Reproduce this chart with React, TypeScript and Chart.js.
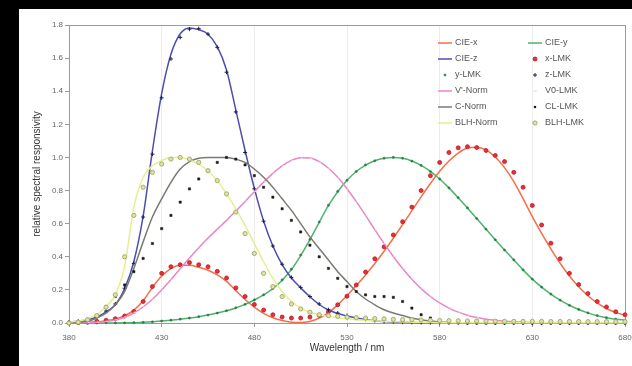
import React, { useEffect, useRef } from 'react';
import { Chart, registerables } from 'chart.js';

Chart.register(...registerables);

const FONT = "'Liberation Sans', Arial, Helvetica, sans-serif";

// Wavelengths (nm)
const wavelengths = [
  380, 385, 390, 395, 400, 405, 410, 415, 420, 425,
  430, 435, 440, 445, 450, 455, 460, 465, 470, 475,
  480, 485, 490, 495, 500, 505, 510, 515, 520, 525,
  530, 535, 540, 545, 550, 555, 560, 565, 570, 575,
  580, 585, 590, 595, 600, 605, 610, 615, 620, 625,
  630, 635, 640, 645, 650, 655, 660, 665, 670, 675,
  680,
];

const xTicks = [380, 430, 480, 530, 580, 630, 680];
const yTicks = [0, 0.2, 0.4, 0.6, 0.8, 1.0, 1.2, 1.4, 1.6, 1.8];

const cieX = [
  0.0014, 0.0022, 0.0042, 0.0077, 0.0143, 0.0232, 0.0435, 0.0776, 0.1344, 0.2148,
  0.2839, 0.3285, 0.3483, 0.3481, 0.3362, 0.3187, 0.2908, 0.2511, 0.1954, 0.1421,
  0.0956, 0.0580, 0.0320, 0.0147, 0.0049, 0.0024, 0.0093, 0.0291, 0.0633, 0.1096,
  0.1655, 0.2258, 0.2904, 0.3597, 0.4334, 0.5121, 0.5945, 0.6784, 0.7621, 0.8425,
  0.9163, 0.9786, 1.0263, 1.0567, 1.0622, 1.0456, 1.0026, 0.9384, 0.8544, 0.7514,
  0.6424, 0.5419, 0.4479, 0.3608, 0.2835, 0.2187, 0.1649, 0.1212, 0.0874, 0.0636,
  0.0468,
];

const cieY = [
  0.0000, 0.0001, 0.0001, 0.0002, 0.0004, 0.0006, 0.0012, 0.0022, 0.0040, 0.0073,
  0.0116, 0.0168, 0.0230, 0.0298, 0.0380, 0.0480, 0.0600, 0.0739, 0.0910, 0.1126,
  0.1390, 0.1693, 0.2080, 0.2586, 0.3230, 0.4073, 0.5030, 0.6082, 0.7100, 0.7932,
  0.8620, 0.9149, 0.9540, 0.9803, 0.9950, 1.0000, 0.9950, 0.9786, 0.9520, 0.9154,
  0.8700, 0.8163, 0.7570, 0.6949, 0.6310, 0.5668, 0.5030, 0.4412, 0.3810, 0.3210,
  0.2650, 0.2170, 0.1750, 0.1382, 0.1070, 0.0816, 0.0610, 0.0446, 0.0320, 0.0232,
  0.0170,
];

const cieZ = [
  0.0065, 0.0106, 0.0201, 0.0362, 0.0679, 0.1102, 0.2074, 0.3713, 0.6456, 1.0391,
  1.3856, 1.6230, 1.7471, 1.7826, 1.7721, 1.7441, 1.6692, 1.5281, 1.2876, 1.0419,
  0.8130, 0.6162, 0.4652, 0.3533, 0.2720, 0.2123, 0.1582, 0.1117, 0.0783, 0.0573,
  0.0422, 0.0298, 0.0203, 0.0134, 0.0088, 0.0058, 0.0039, 0.0028, 0.0021, 0.0018,
  0.0017, 0.0014, 0.0011, 0.0010, 0.0008, 0.0006, 0.0003, 0.0002, 0.0002, 0.0001,
  0, 0, 0, 0, 0, 0, 0, 0, 0, 0,
  0,
];

const xLmk = [
  0.000, 0.002, 0.005, 0.010, 0.016, 0.026, 0.042, 0.070, 0.130, 0.220,
  0.300, 0.340, 0.352, 0.365, 0.352, 0.340, 0.312, 0.272, 0.212, 0.160,
  0.112, 0.078, 0.050, 0.036, 0.030, 0.030, 0.036, 0.046, 0.068, 0.110,
  0.162, 0.230, 0.308, 0.388, 0.460, 0.532, 0.612, 0.700, 0.800, 0.890,
  0.970, 1.030, 1.058, 1.065, 1.060, 1.042, 1.012, 0.975, 0.910, 0.820,
  0.710, 0.592, 0.482, 0.388, 0.300, 0.232, 0.178, 0.130, 0.097, 0.068,
  0.050,
];

const yLmk = [
  0.000, 0.000, 0.000, 0.000, 0.001, 0.001, 0.001, 0.002, 0.004, 0.007,
  0.012, 0.017, 0.023, 0.030, 0.038, 0.048, 0.060, 0.074, 0.092, 0.113,
  0.140, 0.170, 0.209, 0.260, 0.325, 0.410, 0.505, 0.610, 0.711, 0.795,
  0.862, 0.915, 0.955, 0.980, 0.995, 1.000, 0.995, 0.978, 0.952, 0.915,
  0.870, 0.816, 0.757, 0.695, 0.631, 0.567, 0.503, 0.441, 0.381, 0.321,
  0.265, 0.217, 0.175, 0.138, 0.107, 0.082, 0.061, 0.045, 0.032, 0.023,
  0.017,
];

const zLmk = [
  0.006, 0.011, 0.021, 0.038, 0.072, 0.115, 0.210, 0.360, 0.640, 1.020,
  1.360, 1.595, 1.725, 1.775, 1.778, 1.745, 1.665, 1.515, 1.275, 1.030,
  0.810, 0.615, 0.465, 0.355, 0.275, 0.215, 0.160, 0.115, 0.080, 0.060,
  0.045, 0.032, 0.022, 0.015, 0.010, 0.007, 0.005, 0.004, 0.003, 0.002,
  0.002, 0.001, 0.001, 0.001, 0.001, 0.001, 0.000, 0.000, 0.000, 0.000,
  0, 0, 0, 0, 0, 0, 0, 0, 0, 0,
  0,
];

const vNorm = [
  0.0006, 0.0011, 0.0022, 0.0045, 0.0093, 0.0185, 0.0348, 0.0604, 0.0966, 0.1436,
  0.1998, 0.2625, 0.3281, 0.3931, 0.4550, 0.5130, 0.5670, 0.6200, 0.6760, 0.7340,
  0.7930, 0.8510, 0.9040, 0.9490, 0.9820, 0.9980, 0.9970, 0.9750, 0.9350, 0.8800,
  0.8110, 0.7330, 0.6500, 0.5640, 0.4810, 0.4020, 0.3288, 0.2639, 0.2076, 0.1602,
  0.1212, 0.0899, 0.0655, 0.0469, 0.0332, 0.0231, 0.0159, 0.0109, 0.0074, 0.0050,
  0.0033, 0.0022, 0.0015, 0.0010, 0.0007, 0.0005, 0.0003, 0.0002, 0.0001, 0.0001,
  0.0001,
];

const v0Lmk = [
  0.001, 0.001, 0.003, 0.005, 0.010, 0.020, 0.036, 0.062, 0.098, 0.145,
  0.200, 0.262, 0.326, 0.390, 0.452, 0.510, 0.565, 0.620, 0.678, 0.736,
  0.795, 0.852, 0.905, 0.950, 0.982, 0.997, 0.995, 0.972, 0.932, 0.876,
  0.808, 0.730, 0.648, 0.562, 0.480, 0.402, 0.330, 0.265, 0.209, 0.162,
  0.123, 0.091, 0.066, 0.048, 0.034, 0.024, 0.016, 0.011, 0.008, 0.005,
  0.003, 0.002, 0.002, 0.001, 0.001, 0.000, 0.000, 0.000, 0.000, 0.000,
  0.000,
];

const cNorm = [
  0.000, 0.003, 0.010, 0.030, 0.060, 0.110, 0.190, 0.330, 0.490, 0.640,
  0.750, 0.850, 0.930, 0.975, 0.995, 1.000, 1.000, 1.000, 0.990, 0.970,
  0.930, 0.880, 0.820, 0.750, 0.680, 0.600, 0.520, 0.450, 0.380, 0.310,
  0.250, 0.190, 0.145, 0.110, 0.080, 0.060, 0.045, 0.030, 0.020, 0.012,
  0.006, 0.003, 0.000, 0.000, 0.000, 0.000, 0.000, 0.000, 0.000, 0.000,
  0, 0, 0, 0, 0, 0, 0, 0, 0, 0,
  0,
];

const clLmk = [
  0.000, 0.005, 0.015, 0.040, 0.100, 0.160, 0.230, 0.310, 0.390, 0.480,
  0.570, 0.650, 0.730, 0.810, 0.870, 0.920, 0.970, 1.000, 0.990, 0.955,
  0.890, 0.820, 0.760, 0.690, 0.620, 0.550, 0.470, 0.400, 0.330, 0.270,
  0.220, 0.190, 0.170, 0.160, 0.160, 0.155, 0.130, 0.090, 0.050, 0.030,
  0.012, 0.005, 0.002, 0.000, 0.000, 0.000, 0.000, 0.000, 0.000, 0.000,
  0, 0, 0, 0, 0, 0, 0, 0, 0, 0,
  0,
];

const blhNorm = [
  0.006, 0.012, 0.025, 0.050, 0.100, 0.170, 0.340, 0.700, 0.880, 0.950,
  0.980, 1.000, 1.000, 0.985, 0.960, 0.920, 0.860, 0.780, 0.690, 0.590,
  0.480, 0.370, 0.270, 0.190, 0.130, 0.090, 0.065, 0.050, 0.040, 0.032,
  0.025, 0.020, 0.016, 0.013, 0.010, 0.008, 0.006, 0.005, 0.004, 0.003,
  0.002, 0.002, 0.001, 0.001, 0.001, 0.001, 0.001, 0.001, 0.001, 0.001,
  0.001, 0.001, 0.001, 0.001, 0.001, 0.001, 0.001, 0.001, 0.001, 0.001,
  0.001,
];

const blhLmk = [
  0.000, 0.005, 0.020, 0.045, 0.095, 0.170, 0.400, 0.650, 0.820, 0.910,
  0.960, 0.990, 1.000, 0.990, 0.970, 0.920, 0.860, 0.780, 0.670, 0.540,
  0.420, 0.300, 0.220, 0.160, 0.115, 0.085, 0.065, 0.050, 0.044, 0.040,
  0.035, 0.032, 0.030, 0.027, 0.025, 0.022, 0.020, 0.020, 0.018, 0.016,
  0.015, 0.014, 0.013, 0.012, 0.012, 0.011, 0.011, 0.010, 0.010, 0.010,
  0.010, 0.010, 0.009, 0.009, 0.009, 0.009, 0.008, 0.008, 0.008, 0.008,
  0.008,
];

const seriesLabels = [
  'CIE-x', 'CIE-y', 'CIE-z', 'x-LMK', 'y-LMK', 'z-LMK',
  "V'-Norm", 'V0-LMK', 'C-Norm', 'CL-LMK', 'BLH-Norm', 'BLH-LMK',
];
const seriesValues = [
  cieX, cieY, cieZ, xLmk, yLmk, zLmk,
  vNorm, v0Lmk, cNorm, clLmk, blhNorm, blhLmk,
];

type Style = {
  line: boolean;
  color: string;
  fill?: string;
  pointStyle?: string;
  radius?: number;
  bw?: number;
};

const seriesStyles: Style[] = [
  { line: true, color: '#f36f4a' },
  { line: true, color: '#4fb36b' },
  { line: true, color: '#4b4fae' },
  { line: false, color: '#c0141f', fill: '#e8303a', pointStyle: 'circle', radius: 2.0, bw: 0.8 },
  { line: false, color: '#2c7a48', fill: '#2c7a48', pointStyle: 'circle', radius: 1.1, bw: 0.5 },
  { line: false, color: '#1e1e46', fill: '#1e1e46', pointStyle: 'cross', radius: 2.0, bw: 1 },
  { line: true, color: '#e887c4' },
  { line: false, color: '#ecd4e6', fill: '#ecd4e6', pointStyle: 'dash', radius: 2.2, bw: 1 },
  { line: true, color: '#7a7a72' },
  { line: false, color: '#1a1a1a', fill: '#1a1a1a', pointStyle: 'rect', radius: 1.6, bw: 0.5 },
  { line: true, color: '#e6ee90' },
  { line: false, color: '#a5ac6a', fill: '#dfe3a8', pointStyle: 'circle', radius: 2.1, bw: 1 },
];

function drawMarker(ctx: CanvasRenderingContext2D, st: Style, x: number, y: number) {
  const r = st.radius || 2;
  ctx.save();
  ctx.fillStyle = st.fill || st.color;
  ctx.strokeStyle = st.color;
  ctx.lineWidth = st.bw || 1;
  ctx.beginPath();
  if (st.pointStyle === 'circle') {
    ctx.arc(x, y, r, 0, Math.PI * 2);
    ctx.fill();
    ctx.stroke();
  } else if (st.pointStyle === 'rect') {
    const s = r * 1.4;
    ctx.fillRect(x - s / 2, y - s / 2, s, s);
  } else if (st.pointStyle === 'cross') {
    ctx.moveTo(x - r, y);
    ctx.lineTo(x + r, y);
    ctx.moveTo(x, y - r);
    ctx.lineTo(x, y + r);
    ctx.stroke();
  } else if (st.pointStyle === 'dash') {
    ctx.moveTo(x - r, y);
    ctx.lineTo(x + r, y);
    ctx.stroke();
  }
  ctx.restore();
}

const framePlugin = {
  id: 'frame',
  beforeDatasetsDraw(chart: any) {
    const { ctx, chartArea } = chart;
    ctx.save();
    ctx.strokeStyle = '#9a9a9a';
    ctx.lineWidth = 1;
    ctx.strokeRect(
      Math.round(chartArea.left) + 0.5,
      Math.round(chartArea.top) + 0.5,
      Math.round(chartArea.right - chartArea.left),
      Math.round(chartArea.bottom - chartArea.top)
    );
    ctx.restore();
  },
};

const legendPlugin = {
  id: 'twoColLegend',
  afterDatasetsDraw(chart: any) {
    const ctx: CanvasRenderingContext2D = chart.ctx;
    ctx.save();
    ctx.font = `9px ${FONT}`;
    ctx.textBaseline = 'middle';
    ctx.textAlign = 'left';
    seriesLabels.forEach((label, i) => {
      const st = seriesStyles[i];
      const col = i % 2;
      const row = Math.floor(i / 2);
      const y = 34 + row * 16;
      const x0 = col === 0 ? 419 : 509;
      const sw = 14;
      if (st.line) {
        ctx.strokeStyle = st.color;
        ctx.lineWidth = 1.5;
        ctx.beginPath();
        ctx.moveTo(x0, y);
        ctx.lineTo(x0 + sw, y);
        ctx.stroke();
      } else {
        drawMarker(ctx, st, x0 + sw / 2, y);
      }
      ctx.fillStyle = '#555555';
      ctx.fillText(label, x0 + sw + 3, y);
    });
    ctx.restore();
  },
};

export default function App() {
  const ref = useRef<HTMLCanvasElement>(null);

  useEffect(() => {
    if (!ref.current) return;
    const datasets = seriesLabels.map((label, i) => {
      const st = seriesStyles[i];
      const data = wavelengths.map((x, k) => ({ x, y: seriesValues[i][k] }));
      if (st.line) {
        return {
          label,
          data,
          showLine: true,
          borderColor: st.color,
          backgroundColor: st.color,
          borderWidth: 1.5,
          pointRadius: 0,
          fill: false,
          cubicInterpolationMode: 'monotone',
          clip: false,
          order: 100 - i,
        };
      }
      return {
        label,
        data,
        showLine: false,
        pointStyle: st.pointStyle,
        pointRadius: st.radius,
        pointBackgroundColor: st.fill,
        pointBorderColor: st.color,
        pointBorderWidth: st.bw,
        backgroundColor: st.fill,
        borderColor: st.color,
        clip: false,
        order: 100 - i,
      };
    });

    const chart = new Chart(ref.current, {
      type: 'scatter',
      data: { datasets: datasets as any },
      options: {
        animation: false,
        responsive: false,
        events: [],
        layout: { padding: { top: 16, right: 24, left: 0, bottom: 0 } },
        plugins: {
          legend: { display: false },
          tooltip: { enabled: false },
        },
        scales: {
          x: {
            type: 'linear',
            min: xTicks[0],
            max: xTicks[xTicks.length - 1],
            afterBuildTicks: (scale: any) => {
              scale.ticks = xTicks.map((v) => ({ value: v }));
            },
            ticks: {
              autoSkip: false,
              maxRotation: 0,
              padding: 6,
              color: '#666666',
              font: { family: FONT, size: 8 },
              callback: (v: any) => String(v),
            },
            grid: {
              color: '#ededed',
              tickColor: '#9a9a9a',
              tickLength: 4,
              drawOnChartArea: true,
            },
            border: { display: false },
            title: {
              display: true,
              text: 'Wavelength / nm',
              color: '#333',
              font: { family: FONT, size: 10 },
              padding: { top: 0, bottom: 12 },
            },
            afterFit: (scale: any) => {
              scale.height = 43;
            },
          },
          y: {
            type: 'linear',
            min: yTicks[0],
            max: yTicks[yTicks.length - 1],
            afterBuildTicks: (scale: any) => {
              scale.ticks = yTicks.map((v) => ({ value: v }));
            },
            ticks: {
              autoSkip: false,
              padding: 2,
              color: '#666666',
              font: { family: FONT, size: 8 },
              callback: (v: any) => Number(v).toFixed(1),
            },
            grid: {
              drawOnChartArea: false,
              tickColor: '#9a9a9a',
              tickLength: 4,
            },
            border: { display: false },
            title: {
              display: true,
              text: 'relative spectral responsivity',
              color: '#333',
              font: { family: FONT, size: 10 },
              padding: { top: 12, bottom: 0 },
            },
            afterFit: (scale: any) => {
              scale.width = 50;
            },
          },
        },
      } as any,
      plugins: [framePlugin, legendPlugin],
    });
    return () => chart.destroy();
  }, []);

  return (
    <div
      style={{
        position: 'fixed',
        left: 0,
        top: 0,
        width: 632,
        height: 366,
        background: '#000',
        overflow: 'hidden',
      }}
    >
      <div
        style={{
          position: 'absolute',
          left: 19,
          top: 9,
          width: 613,
          height: 357,
          background: '#fff',
          overflow: 'hidden',
        }}
      >
        <canvas ref={ref} width={630} height={357} style={{ display: 'block', width: 630, height: 357 }} />
      </div>
    </div>
  );
}
